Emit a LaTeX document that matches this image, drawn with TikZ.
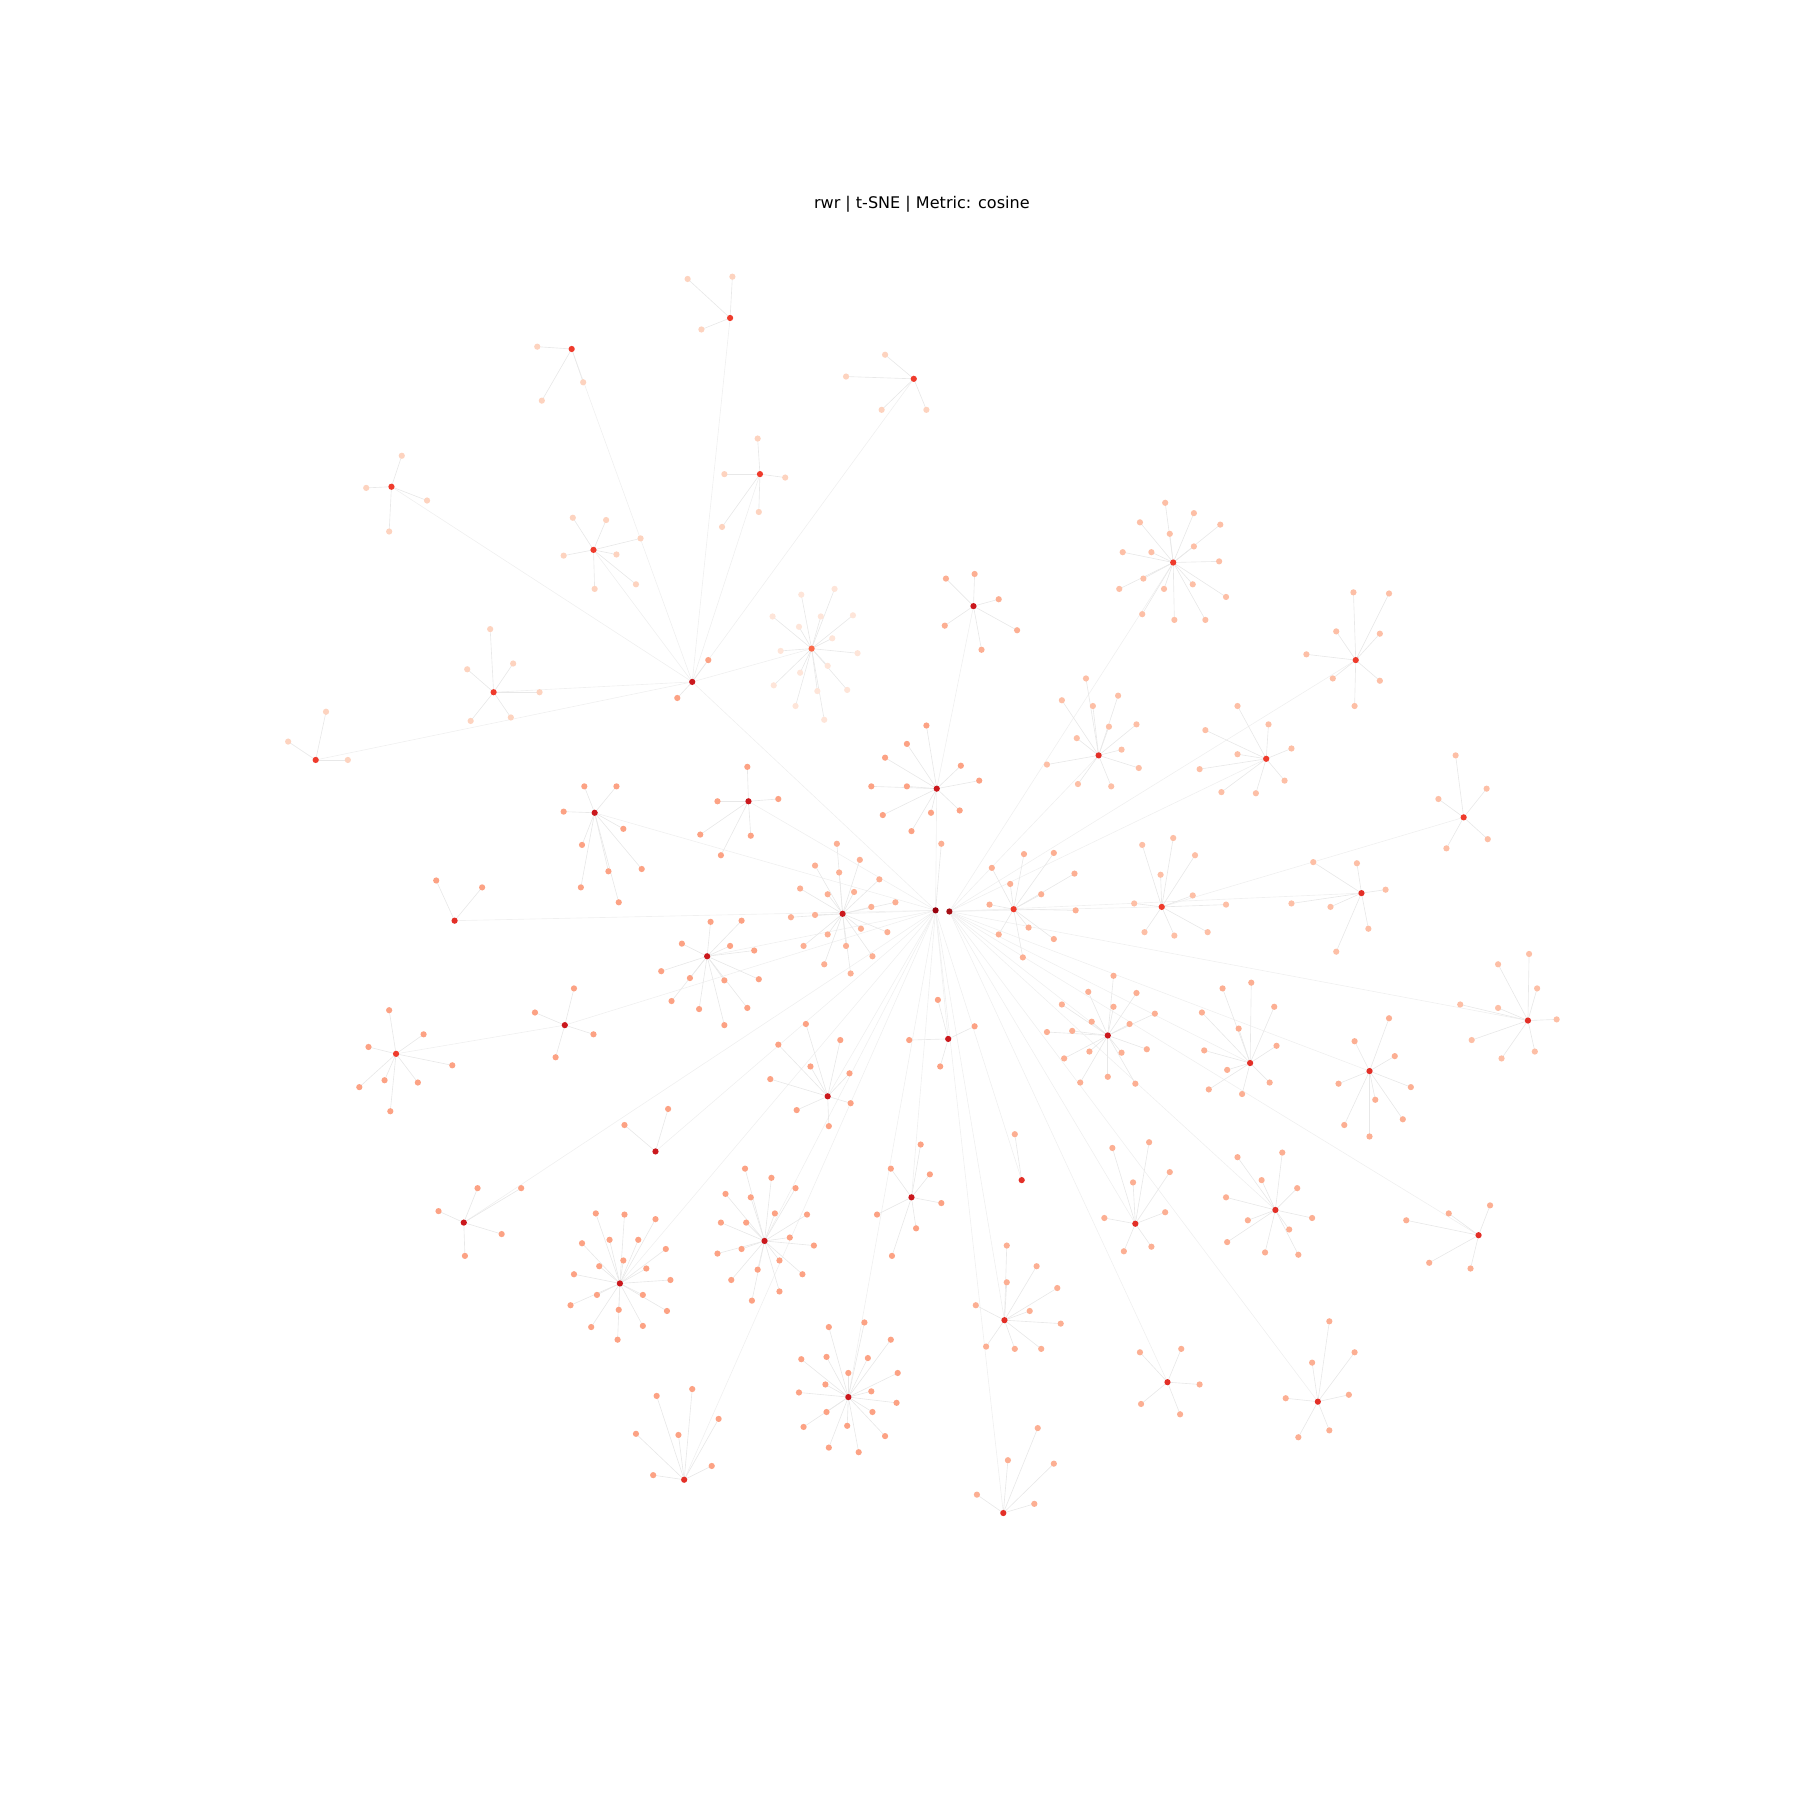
\documentclass[tikz,border=0pt]{standalone}
\usepackage{fontspec}
\setmainfont{DejaVu Sans}
\definecolor{coreA}{HTML}{99000D}
\definecolor{coreB}{HTML}{A50F15}
\definecolor{hubdark}{HTML}{CB181D}
\definecolor{hubmid}{HTML}{E32F27}
\definecolor{hubred}{HTML}{EF3B2C}
\definecolor{hubpale}{HTML}{FB6A4A}
\definecolor{leafA}{HTML}{FEE5D9}
\definecolor{leafB}{HTML}{FDD3BF}
\definecolor{leafC}{HTML}{FDBFA6}
\definecolor{leafD}{HTML}{FCAF93}
\definecolor{leafE}{HTML}{FCA284}
% first pass: leaf coordinates and their links to the hub
\newcommand\clusterlinks[3]{%
  \foreach \x/\y [count=\i] in {#3} {
    \coordinate (#1-\i) at (\x,\y);
    \draw[edge] (#1) -- (#1-\i);
  }}
% second pass: the leaf dots on top
\newcommand\clusterdots[3]{%
  \foreach \x/\y [count=\i] in {#3}
    \node[leaf, fill=#2] (#1-\i) at (\x,\y) {};}
% hub name, leaf colour, leaf positions
\newcommand\allclusters{%
  \cluster{c1}{leafD}{820/735}
  \cluster{h1}{leafB}{599/243, 638/241, 611/287}
  \cluster{h2}{leafB}{468/302, 472/349, 508/333}
  \cluster{h3}{leafB}{771/309, 737/328, 768/357, 807/357}
  \cluster{h4}{leafB}{660/382, 631/413, 684/416, 629/459, 661/446}
  \cluster{h5}{leafB}{350/397, 319/425, 372/436, 339/463}
  \cluster{h6}{leafB}{499/451, 528/453, 491/484, 558/469, 537/483, 554/509, 518/513}
  \cluster{h7}{leafE}{617/575, 590/608}
  \cluster{h8}{leafB}{427/548, 407/583, 447/578, 470/603, 410/628, 445/625}
  \cluster{h9}{leafB}{284/620, 251/646, 303/662}
  \cluster{h10}{leafA}{698/518, 727/513, 673/537, 696/546, 715/537, 743/536, 725/556, 680/567,
    747/569, 721/580, 697/586, 674/597, 712/602, 738/601, 693/615, 718/627}
  \cluster{h11}{leafE}{651/668, 625/698, 678/696, 654/728, 610/727, 628/745}
  \cluster{h12}{leafE}{509/685, 537/685, 491/707, 543/722, 507/736, 530/759, 559/757, 506/773, 539/786}
  \cluster{h13}{leafE}{807/632, 790/685, 759/685, 837/667, 853/680, 836/706, 811/708, 794/724,
    769/710, 771/660, 790/648}
  \cluster{h14}{leafD}{824/504, 849/500, 870/522, 886/549, 823/545, 855/566}
  \cluster{h15}{leafC}{1015/438, 1040/447, 993/455, 1019/465, 1063/457, 978/481, 1003/481, 1040/476,
    1062/489, 996/504, 975/513, 1014/513, 1039/509, 1068/520, 1023/540, 1050/540, 995/535}
  \cluster{h16}{leafC}{946/591, 925/610, 952/615, 974/606, 966/633, 990/631, 938/643, 977/653,
    992/669, 912/666, 939/683, 968/685}
  \cluster{h17}{leafC}{1078/615, 1105/631, 1050/636, 1125/652, 1078/657, 1045/670, 1119/680,
    1094/691, 1064/690}
  \cluster{h18}{leafC}{1179/516, 1210/517, 1164/550, 1202/552, 1138/570, 1161/591, 1202/593, 1180/615}
  \cluster{h19}{leafC}{1268/658, 1295/687, 1253/696, 1260/739, 1296/731}
  \cluster{h20}{leafC}{1022/730, 995/736, 1041/745, 1011/762, 1039/780, 988/787, 1068/788,
    997/812, 1023/815, 1052/812}
  \cluster{h21}{leafD}{864/756, 892/744, 918/743, 936/761, 880/770, 907/779, 862/788, 937/793,
    896/808, 870/814, 918/818, 891/834}
  \cluster{h22}{leafD}{729/735, 710/754, 749/749, 731/760, 766/766, 697/774, 721/779, 744/777,
    780/786, 759/790, 710/797, 689/799, 750/809, 773/812, 721/814, 700/824, 737/824, 760/833,
    718/840, 741/848}
  \cluster{h23}{leafE}{619/803, 646/802, 594/822, 636/824, 657/828, 576/846, 601/852, 631/854,
    661/853, 585/872, 609/879, 651/878, 631/893}
  \cluster{h24}{leafE}{380/767, 420/773}
  \cluster{h25}{leafE}{339/880, 321/912, 369/901, 335/941, 364/943, 313/947, 340/968, 394/928}
  \cluster{h26}{leafE}{500/861, 466/882, 517/901, 484/921}
  \cluster{h27}{leafE}{702/892, 732/906, 678/910, 706/929, 740/935, 671/940, 694/967, 741/961, 722/981}
  \cluster{h28}{leafE}{817/871, 849/894, 792/906, 819/929}
  \cluster{h29}{leafE}{582/966, 544/980}
  \cluster{h30}{leafE}{416/1035, 382/1055, 454/1035, 437/1075, 405/1094}
  \cluster{h31}{leafE}{519/1057, 544/1058, 571/1062, 507/1083, 531/1080, 556/1080, 580/1088,
    543/1098, 522/1103, 563/1105, 500/1110, 584/1115, 520/1128, 560/1128, 497/1137, 581/1142,
    539/1141, 515/1156, 560/1155, 538/1167}
  \cluster{h32}{leafE}{649/1018, 672/1026, 693/1035, 632/1040, 654/1043, 675/1057, 703/1058,
    628/1065, 650/1065, 688/1078, 709/1085, 646/1088, 625/1092, 679/1098, 699/1110, 660/1106,
    637/1115, 679/1125, 655/1133}
  \cluster{h33}{leafE}{572/1216, 603/1210, 626/1236, 554/1249, 591/1250, 569/1285, 620/1277}
  \cluster{h34}{leafE}{722/1156, 753/1152, 776/1167, 720/1182, 698/1184, 739/1196, 756/1183,
    782/1196, 719/1206, 759/1212, 696/1213, 781/1222, 720/1230, 760/1230, 700/1243, 738/1242,
    771/1251, 722/1261, 748/1265}
  \cluster{h35}{leafE}{802/997, 776/1018, 810/1023, 820/1048, 764/1058, 798/1070, 777/1094}
  \cluster{h36}{leafD}{884/988}
  \cluster{h37}{leafD}{877/1085, 877/1117, 903/1103, 850/1137, 897/1142, 921/1122, 924/1153,
    859/1173, 884/1175, 907/1175}
  \cluster{h38}{leafD}{904/1244, 878/1272, 918/1275, 851/1302, 901/1310}
  \cluster{h39}{leafD}{970/850, 948/864, 990/865, 925/875, 970/877, 1006/883, 951/890, 984/892,
    912/899, 934/898, 999/914, 949/916, 977/917, 927/922, 965/938, 941/943, 989/944}
  \cluster{h40}{leafD}{1065/861, 1090/856, 1110/877, 1047/882, 1079/896, 1112/911, 1049/915,
    1069/932, 1106/943, 1053/949, 1082/953}
  \cluster{h41}{leafD}{1210/887, 1180/907, 1215/920, 1166/944, 1198/958, 1229/947, 1171/980,
    1193/990, 1222/975}
  \cluster{h42}{leafC}{1332/831, 1305/840, 1339/861, 1272/875, 1305/878, 1356/888, 1282/906,
    1337/916, 1308/922}
  \cluster{h43}{leafC}{1144/751, 1182/752, 1125/787, 1159/790, 1207/775, 1192/809, 1164/829}
  \cluster{h44}{leafD}{969/1000, 1001/995, 987/1030, 1019/1021, 962/1061, 1015/1056, 979/1090, 1003/1086}
  \cluster{h45}{leafD}{1117/1004, 1078/1008, 1099/1028, 1130/1035, 1068/1043, 1143/1061, 1087/1063,
    1123/1071, 1069/1082, 1102/1091, 1131/1093}
  \cluster{h46}{leafD}{1298/1050, 1262/1057, 1225/1063, 1245/1100, 1281/1105}
  \cluster{h47}{leafD}{993/1178, 1029/1175, 1045/1206, 994/1223, 1028/1232}
  \cluster{h48}{leafD}{1158/1151, 1180/1178, 1143/1187, 1120/1218, 1175/1215, 1158/1246, 1131/1252}}
\newcommand\hubs{c1/815/793/coreA, c2/827/794/coreB,
  h1/636/277/hubred, h2/498/304/hubred, h3/796/330/hubred, h4/662/413/hubred,
  h5/341/424/hubred, h6/517/479/hubred, h7/603/594/hubdark, h8/430/603/hubred,
  h9/275/662/hubred, h10/707/565/hubpale, h11/652/698/hubdark, h12/518/708/hubdark,
  h13/816/687/hubdark, h14/848/528/hubdark, h15/1022/490/hubred, h16/957/658/hubmid,
  h17/1103/661/hubred, h18/1181/575/hubred, h19/1275/712/hubred, h20/1012/790/hubred,
  h21/883/792/hubred, h22/734/796/hubdark, h23/616/833/hubdark, h24/396/802/hubmid,
  h25/345/918/hubred, h26/492/893/hubdark, h27/721/955/hubdark, h28/826/905/hubdark,
  h29/571/1003/hubdark, h30/404/1065/hubdark, h31/540/1118/hubdark, h32/666/1081/hubdark,
  h33/596/1289/hubmid, h34/739/1217/hubdark, h35/794/1043/hubdark, h36/890/1028/hubmid,
  h37/875/1150/hubmid, h38/874/1318/hubmid, h39/965/902/hubdark, h40/1089/926/hubmid,
  h41/1193/933/hubmid, h42/1331/889/hubmid, h43/1186/778/hubmid, h44/989/1066/hubmid,
  h45/1111/1054/hubmid, h46/1288/1076/hubmid, h47/1017/1204/hubmid, h48/1148/1221/hubmid}

\begin{document}
\begin{tikzpicture}[x=0.029158cm, y=-0.029158cm,
    dot/.style={circle, inner sep=0pt, minimum size=4.5pt, draw=none},
    hub/.style={dot},
    leaf/.style={dot},
    edge/.style={draw=black!9, line width=0.45pt},
    longedge/.style={draw=black!6, line width=0.45pt}]
  \useasboundingbox (0,0) rectangle (1568,1568);

  \node[font=\fontsize{11.6}{14}\selectfont] (title) at (803,178) {rwr | t-SNE | Metric: cosine};

  % hub positions first, links underneath everything
  \foreach \n/\x/\y/\c in \hubs
    \coordinate (\n) at (\x,\y);
  \foreach \a/\b in {h7/h1, h7/h2, h7/h3, h7/h4, h7/h5, h7/h6, h7/h8, h7/h9, h7/h10, h7/c1,
      c1/h11, c1/h12, c1/h13, c1/h22, c1/h23, c1/h24, c1/h26, c1/h27, c1/h28, c1/h29,
      c1/h30, c1/h31, c1/h32, c1/h33, c1/h34, c1/h35, c1/h36, c1/h37, c1/h38,
      h13/h14, h25/h26, h19/h20,
      c2/h15, c2/h16, c2/h17, c2/h18, c2/h20, c2/h21, c2/h39, c2/h40, c2/h41, c2/h42,
      c2/h43, c2/h44, c2/h45, c2/h46, c2/h47, c2/h48}
    \draw[longedge] (\a) -- (\b);
  \let\cluster\clusterlinks
  \allclusters

  % dots
  \let\cluster\clusterdots
  \allclusters
  \foreach \n/\x/\y/\c in \hubs
    \node[hub, fill=\c] (\n) at (\x,\y) {};
\end{tikzpicture}
\end{document}
